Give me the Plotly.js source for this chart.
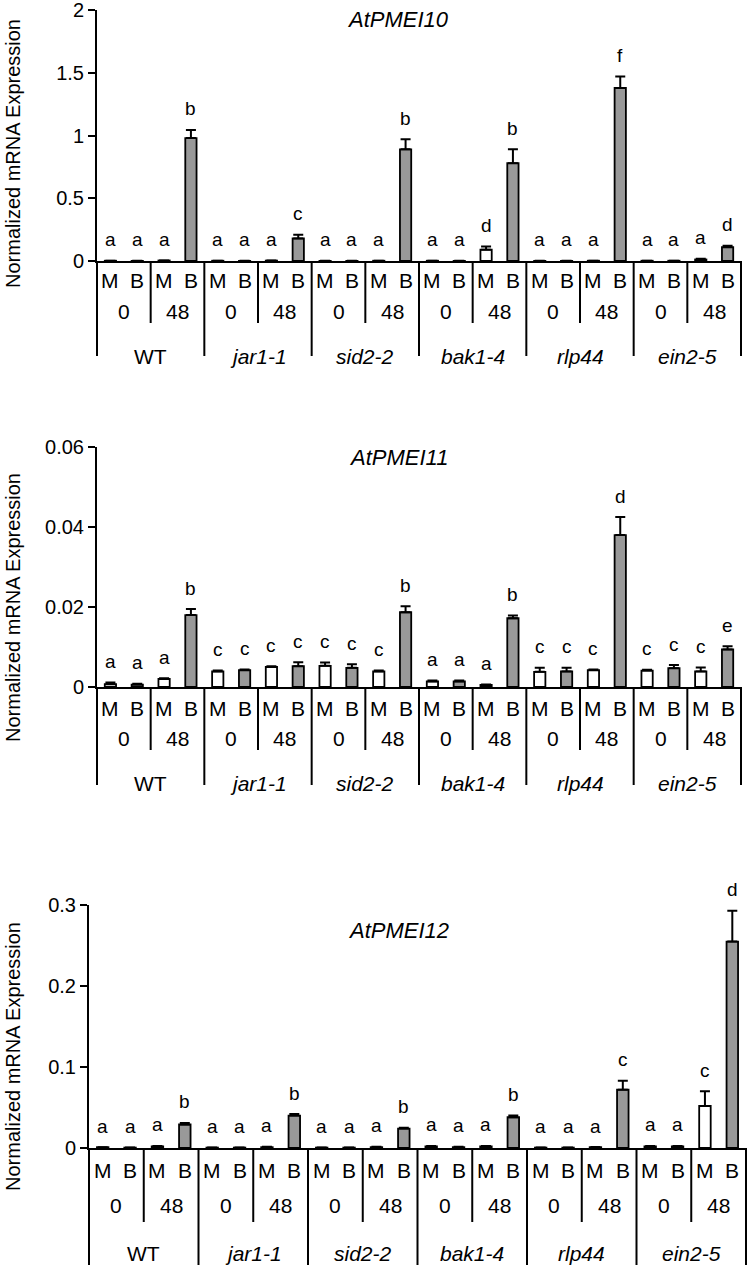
<!DOCTYPE html>
<html><head><meta charset="utf-8">
<script src="https://cdn.plot.ly/plotly-3.0.1.min.js"></script>
<style>html,body{margin:0;padding:0;background:#fff}</style>
</head><body><div id="chart" style="width:749px;height:1276px"></div>
<script>
// ---------- data ----------
const genotypes = ["WT", "jar1-1", "sid2-2", "bak1-4", "rlp44", "ein2-5"];
const genoItalic = [false, true, true, true, true, true];
const times = ["0", "48"];
const treatments = ["M", "B"];
const yTitle = "Normalized mRNA Expression";
const panelTitles = ["AtPMEI10", "AtPMEI11", "AtPMEI12"];

// order of each array: WT 0, WT 48, jar1-1 0, jar1-1 48, sid2-2 0, sid2-2 48, bak1-4 0, bak1-4 48, rlp44 0, rlp44 48, ein2-5 0, ein2-5 48
const pmei10_M    = [0.002, 0.004, 0.002, 0.003, 0.001, 0.002, 0.002, 0.09, 0.001, 0.002, 0.002, 0.012];
const pmei10_Merr = [0, 0, 0, 0, 0, 0, 0, 0.025, 0, 0, 0, 0.005];
const pmei10_B    = [0.001, 0.98, 0.001, 0.18, 0.001, 0.89, 0.001, 0.78, 0.001, 1.38, 0.002, 0.11];
const pmei10_Berr = [0, 0.065, 0, 0.03, 0, 0.08, 0, 0.11, 0, 0.09, 0, 0.012];
const pmei10_letters = ["a","a","a","b", "a","a","a","c", "a","a","a","b", "a","a","d","b", "a","a","a","f", "a","a","a","d"];

const pmei11_M    = [0.0007, 0.002, 0.0039, 0.005, 0.0053, 0.0039, 0.0014, 0.0005, 0.0038, 0.0042, 0.0041, 0.0039];
const pmei11_Merr = [0.0004, 0.0002, 0.0002, 0.0002, 0.0008, 0.0002, 0.0002, 0.0001, 0.001, 0.0002, 0.0002, 0.001];
const pmei11_B    = [0.0006, 0.018, 0.0042, 0.0052, 0.0048, 0.0187, 0.0014, 0.0172, 0.0039, 0.038, 0.0047, 0.0094];
const pmei11_Berr = [0.0002, 0.0015, 0.0002, 0.001, 0.0009, 0.0015, 0.0002, 0.0007, 0.0009, 0.0045, 0.0008, 0.0008];
const pmei11_letters = ["a","a","a","b", "c","c","c","c", "c","c","c","b", "a","a","a","b", "c","c","c","d", "c","c","c","e"];

const pmei12_M    = [0.001, 0.002, 0.0005, 0.001, 0.0005, 0.001, 0.002, 0.002, 0.0005, 0.001, 0.002, 0.052];
const pmei12_Merr = [0, 0.0005, 0, 0.0005, 0, 0.0005, 0.0005, 0.0005, 0, 0.0002, 0.0005, 0.018];
const pmei12_B    = [0.0005, 0.029, 0.0005, 0.04, 0.0005, 0.024, 0.001, 0.038, 0.0005, 0.072, 0.002, 0.255];
const pmei12_Berr = [0, 0.002, 0, 0.002, 0, 0.001, 0.0005, 0.002, 0, 0.011, 0.0005, 0.038];
const pmei12_letters = ["a","a","a","b", "a","a","a","b", "a","a","a","b", "a","a","a","b", "a","a","a","c", "a","a","c","d"];

const yTickVals = [[0, 0.5, 1, 1.5, 2], [0, 0.02, 0.04, 0.06], [0, 0.1, 0.2, 0.3]];
const yTickText = [["0", "0.5", "1", "1.5", "2"], ["0", "0.02", "0.04", "0.06"], ["0", "0.1", "0.2", "0.3"]];
const yRanges = [[0, 2], [0, 0.06], [0, 0.3]];

// ---------- layout geometry (pixels) ----------
const W = 749, H = 1276;
const FONT = "Liberation Sans, Arial, Helvetica, sans-serif";
const panels = [
  {M: pmei10_M, Me: pmei10_Merr, B: pmei10_B, Be: pmei10_Berr, L: pmei10_letters,
   xl: 97, xr: 741, yt: 10, yb: 261, mb: 19, tm: 50, gn: 95, shortL: 62, longL: 95, titleY: 20, ytitleY: 154},
  {M: pmei11_M, Me: pmei11_Merr, B: pmei11_B, Be: pmei11_Berr, L: pmei11_letters,
   xl: 97, xr: 741, yt: 447, yb: 687, mb: 21, tm: 51, gn: 96, shortL: 63, longL: 98, titleY: 457, ytitleY: 608},
  {M: pmei12_M, Me: pmei12_Merr, B: pmei12_B, Be: pmei12_Berr, L: pmei12_letters,
   xl: 89, xr: 746, yt: 905, yb: 1148, mb: 22, tm: 57, gn: 105, shortL: 74, longL: 117, titleY: 930, ytitleY: 1057}
];

const traces = [];
const annotations = [];
const shapes = [];
const layout = {
  width: W, height: H,
  margin: {l: 0, r: 0, t: 0, b: 0},
  paper_bgcolor: "#fff", plot_bgcolor: "rgba(0,0,0,0)",
  showlegend: false, barmode: "overlay",
  font: {family: FONT, size: 20, color: "#000"}
};

panels.forEach((p, k) => {
  const n = k + 1;
  const xa = "x" + (n === 1 ? "" : n), ya = "y" + (n === 1 ? "" : n);
  const xKey = "xaxis" + (n === 1 ? "" : n), yKey = "yaxis" + (n === 1 ? "" : n);
  const xM = p.M.map((_, j) => 2 * j), xB = p.B.map((_, j) => 2 * j + 1);
  const errStyle = (arr) => ({type: "data", symmetric: false, array: arr, arrayminus: arr.map(() => 0),
                              color: "#000", thickness: 2, width: 5});
  traces.push({type: "bar", x: xM, y: p.M, xaxis: xa, yaxis: ya, width: 0.42,
               marker: {color: "#ffffff", line: {color: "#000", width: 1.8}}, error_y: errStyle(p.Me), hoverinfo: "skip"});
  traces.push({type: "bar", x: xB, y: p.B, xaxis: xa, yaxis: ya, width: 0.42,
               marker: {color: "#999999", line: {color: "#000", width: 1.8}}, error_y: errStyle(p.Be), hoverinfo: "skip"});

  const r = yRanges[k];
  layout[xKey] = {domain: [p.xl / W, p.xr / W], range: [-0.5, 23.5], anchor: ya,
                  showline: true, linecolor: "#000", linewidth: 2, showticklabels: false, ticks: "",
                  showgrid: false, zeroline: false, fixedrange: true};
  layout[yKey] = {domain: [1 - p.yb / H, 1 - p.yt / H], range: [r[0], r[1] * 1.0005], anchor: xa,
                  showline: true, linecolor: "#000", linewidth: 2, ticks: "outside", ticklen: 7, tickwidth: 2,
                  tickcolor: "#000", tickvals: yTickVals[k], ticktext: yTickText[k], ticklabeloverflow: "allow",
                  tickfont: {family: FONT, size: 20, color: "#000"}, showgrid: false, zeroline: false, fixedrange: true};

  // significance letters and category labels
  for (let i = 0; i < 24; i++) {
    const j = Math.floor(i / 2);
    const top = i % 2 === 0 ? p.M[j] + p.Me[j] : p.B[j] + p.Be[j];
    annotations.push({xref: xa, yref: ya, x: i, y: top, yshift: 21, text: p.L[i], showarrow: false,
                      yanchor: "middle", font: {family: FONT, size: 19, color: "#000"}});
    annotations.push({xref: xa, yref: ya, x: i, y: 0, yshift: -p.mb, text: treatments[i % 2], showarrow: false,
                      yanchor: "middle", font: {family: FONT, size: 21, color: "#000"}});
  }
  for (let j = 0; j < 12; j++) {
    annotations.push({xref: xa, yref: ya, x: 2 * j + 0.5, y: 0, yshift: -p.tm, text: times[j % 2], showarrow: false,
                      yanchor: "middle", font: {family: FONT, size: 21, color: "#000"}});
  }
  genotypes.forEach((g, gi) => {
    annotations.push({xref: xa, yref: ya, x: 4 * gi + 1.5, y: 0, yshift: -p.gn,
                      text: genoItalic[gi] ? "<i>" + g + "</i>" : g, showarrow: false,
                      yanchor: "middle", font: {family: FONT, size: 21, color: "#000"}});
  });
  // separator lines below the axis (layout decoration, paper coords)
  for (let b = 0; b <= 12; b++) {
    const len = b % 2 === 0 ? p.longL : p.shortL;
    const px = p.xl + b * (p.xr - p.xl) / 12;
    shapes.push({type: "line", xref: "paper", yref: "paper",
                 x0: px / W, x1: px / W, y0: 1 - p.yb / H, y1: 1 - (p.yb + len) / H,
                 line: {color: "#000", width: 2}});
  }
  // panel title
  annotations.push({xref: "paper", yref: "paper", x: 398 / W, y: 1 - p.titleY / H, text: "<i>" + panelTitles[k] + "</i>",
                    showarrow: false, xanchor: "center", yanchor: "middle", font: {family: FONT, size: 22, color: "#000"}});
  // y-axis title
  annotations.push({xref: "paper", yref: "paper", x: 13 / W, y: 1 - p.ytitleY / H, text: yTitle, textangle: -90,
                    showarrow: false, xanchor: "center", yanchor: "middle", font: {family: FONT, size: 20, color: "#000"}});
});

layout.annotations = annotations;
layout.shapes = shapes;
Plotly.newPlot("chart", traces, layout, {staticPlot: true, displayModeBar: false});
</script>
</body></html>
